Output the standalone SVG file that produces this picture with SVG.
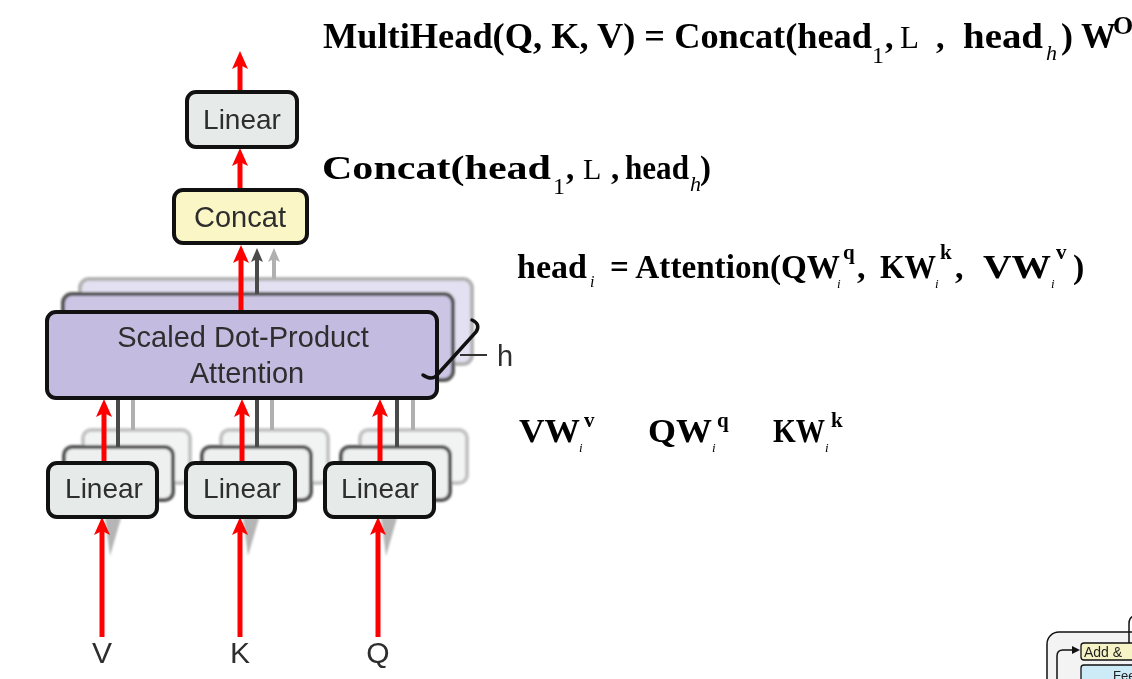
<svg xmlns="http://www.w3.org/2000/svg" width="1132" height="679" viewBox="0 0 1132 679">
<defs>
  <style>
    .box { stroke: #111; stroke-width: 4; }
    .lin { fill: #e6ebe9; }
    .cat { fill: #fbf6c6; }
    .att { fill: #c4bce0; }
    .lbl { font-family: "Liberation Sans", Arial, sans-serif; fill: #2e2e2e; text-anchor: middle; }
    .red { stroke: #ff0000; stroke-width: 5; fill: none; marker-end: url(#redHead); }
    .dk { stroke: #4a4a4a; stroke-width: 4; fill: none; }
    .lt { stroke: #b0b0b0; stroke-width: 4; fill: none; }
    .f { font-family: "Liberation Serif", "Times New Roman", serif; fill: #000; }
    .b { font-weight: bold; }
    .r { font-weight: normal; }
    .it { font-style: italic; font-weight: normal; }
    .tr { font-family: "Liberation Sans", Arial, sans-serif; fill: #222; }
  </style>
  <filter id="soft" x="-10%" y="-10%" width="120%" height="120%">
    <feGaussianBlur stdDeviation="1.2"/>
  </filter>
  <marker id="redHead" markerUnits="userSpaceOnUse" viewBox="-1 -9 21 18" markerWidth="21" markerHeight="18" refX="4" refY="0" orient="auto">
    <path d="M0,-8 L18,0 L0,8 L4,0 Z" fill="#ff0000"/>
  </marker>
  <marker id="dkHead" markerUnits="userSpaceOnUse" viewBox="-1 -7 17 14" markerWidth="17" markerHeight="14" refX="3" refY="0" orient="auto">
    <path d="M0,-6 L14,0 L0,6 L3,0 Z" fill="#4a4a4a"/>
  </marker>
  <marker id="ltHead" markerUnits="userSpaceOnUse" viewBox="-1 -7 17 14" markerWidth="17" markerHeight="14" refX="3" refY="0" orient="auto">
    <path d="M0,-6 L14,0 L0,6 L3,0 Z" fill="#b0b0b0"/>
  </marker>
  <marker id="blkHead" markerUnits="userSpaceOnUse" viewBox="-1 -5 9 10" markerWidth="9" markerHeight="10" refX="1" refY="0" orient="auto">
    <path d="M0,-4 L8,0 L0,4 Z" fill="#111"/>
  </marker>
</defs>

<rect width="1132" height="679" fill="#ffffff"/>

<!-- back copies (shadows of the h heads) -->
<g id="back-copies" filter="url(#soft)">
  <rect x="80" y="279" width="392" height="85" rx="9" fill="#e3e0f1" stroke="#b4b4b4" stroke-width="4"/>
  <rect x="63" y="294" width="390" height="86" rx="9" fill="#ccc6e4" stroke="#555" stroke-width="4"/>
  <rect x="83" y="430" width="107" height="53" rx="8" fill="#f2f4f3" stroke="#c4c4c4" stroke-width="4"/>
  <rect x="221" y="430" width="107" height="53" rx="8" fill="#f2f4f3" stroke="#c4c4c4" stroke-width="4"/>
  <rect x="360" y="430" width="107" height="53" rx="8" fill="#f2f4f3" stroke="#c4c4c4" stroke-width="4"/>
  <rect x="64" y="447" width="109" height="53" rx="8" fill="#edf0ef" stroke="#555" stroke-width="4"/>
  <rect x="202" y="447" width="109" height="53" rx="8" fill="#edf0ef" stroke="#555" stroke-width="4"/>
  <rect x="341" y="447" width="109" height="53" rx="8" fill="#edf0ef" stroke="#555" stroke-width="4"/>
  <path d="M105,518 L121,518 L110,556 Z" fill="#777" opacity="0.55"/>
  <path d="M243,518 L259,518 L248,556 Z" fill="#777" opacity="0.55"/>
  <path d="M381,518 L397,518 L386,556 Z" fill="#777" opacity="0.55"/>
</g>

<!-- connectors -->
<g id="connectors">
  <line class="lt" x1="133" y1="430" x2="133" y2="362"/>
  <line class="lt" x1="272" y1="430" x2="272" y2="362"/>
  <line class="lt" x1="413" y1="430" x2="413" y2="362"/>
  <line class="dk" x1="118" y1="447" x2="118" y2="380"/>
  <line class="dk" x1="257" y1="447" x2="257" y2="380"/>
  <line class="dk" x1="397" y1="447" x2="397" y2="380"/>
  <line class="lt" x1="274" y1="279" x2="274" y2="259" marker-end="url(#ltHead)"/>
  <line class="dk" x1="257" y1="294" x2="257" y2="259" marker-end="url(#dkHead)"/>

  <line class="red" x1="241" y1="312" x2="241" y2="259"/>
  <line class="red" x1="240" y1="190" x2="240" y2="162"/>
  <line class="red" x1="240" y1="92" x2="240" y2="65"/>
  <line class="red" x1="104" y1="463" x2="104" y2="413"/>
  <line class="red" x1="242" y1="463" x2="242" y2="413"/>
  <line class="red" x1="380" y1="463" x2="380" y2="413"/>
  <line class="red" x1="102" y1="637" x2="102" y2="531"/>
  <line class="red" x1="240" y1="637" x2="240" y2="531"/>
  <line class="red" x1="378" y1="637" x2="378" y2="531"/>
</g>

<!-- nodes -->
<g id="node-linear-out">
  <rect class="box lin" x="187" y="92" width="110" height="55" rx="9"/>
  <text class="lbl" x="242" y="129" font-size="28">Linear</text>
</g>
<g id="node-concat">
  <rect class="box cat" x="174" y="190" width="133" height="53" rx="9"/>
  <text class="lbl" x="240" y="227" font-size="29">Concat</text>
</g>
<g id="node-attention">
  <rect class="box att" x="47" y="312" width="390" height="86" rx="9"/>
  <text class="lbl" x="243" y="347" font-size="29">Scaled Dot-Product</text>
  <text class="lbl" x="247" y="383" font-size="29">Attention</text>
</g>
<g id="node-h">
  <path d="M472,320 Q481,324 476,332 L437,375 Q432,381 423,375" fill="none" stroke="#111" stroke-width="3.5" stroke-linecap="round"/>
  <line x1="460" y1="355" x2="487" y2="355" stroke="#333" stroke-width="2"/>
  <text class="lbl" x="505" y="366" font-size="29">h</text>
</g>
<g id="node-linear-v">
  <rect class="box lin" x="48" y="463" width="109" height="54" rx="9"/>
  <text class="lbl" x="104" y="498" font-size="28">Linear</text>
</g>
<g id="node-linear-k">
  <rect class="box lin" x="186" y="463" width="109" height="54" rx="9"/>
  <text class="lbl" x="242" y="498" font-size="28">Linear</text>
</g>
<g id="node-linear-q">
  <rect class="box lin" x="325" y="463" width="109" height="54" rx="9"/>
  <text class="lbl" x="380" y="498" font-size="28">Linear</text>
</g>
<g id="node-inputs">
  <text class="lbl" x="102" y="663" font-size="30">V</text>
  <text class="lbl" x="240" y="663" font-size="30">K</text>
  <text class="lbl" x="378" y="663" font-size="30">Q</text>
</g>

<!-- formulas -->
<g id="formula-multihead" class="f">
  <text class="b" x="323" y="48" font-size="36" textLength="549" lengthAdjust="spacingAndGlyphs">MultiHead(Q, K, V) = Concat(head</text>
  <text class="r" x="872" y="63" font-size="24">1</text>
  <text class="b" x="885" y="48" font-size="34">,</text>
  <text class="r" x="900" y="48" font-size="31">L</text>
  <text class="b" x="936" y="48" font-size="34">,</text>
  <text class="b" x="963" y="48" font-size="36" textLength="80" lengthAdjust="spacingAndGlyphs">head</text>
  <text class="it" x="1046" y="60" font-size="22">h</text>
  <text class="b" x="1061" y="48" font-size="36">)</text>
  <text class="b" x="1081" y="48" font-size="35">W</text>
  <text class="b" x="1113" y="34" font-size="26">O</text>
</g>
<g id="formula-concat" class="f">
  <text class="b" x="322" y="179" font-size="33" textLength="229" lengthAdjust="spacingAndGlyphs">Concat(head</text>
  <text class="r" x="553" y="194" font-size="24">1</text>
  <text class="b" x="566" y="179" font-size="33">,</text>
  <text class="r" x="583" y="179" font-size="30">L</text>
  <text class="b" x="611" y="179" font-size="33">,</text>
  <text class="b" x="625" y="179" font-size="33" textLength="64" lengthAdjust="spacingAndGlyphs">head</text>
  <text class="it" x="690" y="191" font-size="22">h</text>
  <text class="b" x="700" y="179" font-size="33">)</text>
</g>
<g id="formula-head" class="f">
  <text class="b" x="517" y="278" font-size="34" textLength="70" lengthAdjust="spacingAndGlyphs">head</text>
  <text class="it" x="590" y="287" font-size="16">i</text>
  <text class="b" x="610" y="278" font-size="34" textLength="230" lengthAdjust="spacingAndGlyphs">= Attention(QW</text>
  <text class="it" x="837" y="288" font-size="13">i</text>
  <text class="b" x="843" y="259" font-size="21">q</text>
  <text class="b" x="857" y="278" font-size="34">,</text>
  <text class="b" x="880" y="278" font-size="34" textLength="56" lengthAdjust="spacingAndGlyphs">KW</text>
  <text class="it" x="935" y="288" font-size="13">i</text>
  <text class="b" x="940" y="259" font-size="21">k</text>
  <text class="b" x="955" y="278" font-size="34">,</text>
  <text class="b" x="983" y="278" font-size="34" textLength="68" lengthAdjust="spacingAndGlyphs">VW</text>
  <text class="it" x="1051" y="288" font-size="13">i</text>
  <text class="b" x="1056" y="259" font-size="21">v</text>
  <text class="b" x="1073" y="278" font-size="34">)</text>
</g>
<g id="formula-projections" class="f">
  <text class="b" x="519" y="442" font-size="34" textLength="61" lengthAdjust="spacingAndGlyphs">VW</text>
  <text class="it" x="579" y="452" font-size="13">i</text>
  <text class="b" x="584" y="427" font-size="21">v</text>
  <text class="b" x="648" y="442" font-size="34" textLength="64" lengthAdjust="spacingAndGlyphs">QW</text>
  <text class="it" x="712" y="452" font-size="13">i</text>
  <text class="b" x="717" y="427" font-size="21">q</text>
  <text class="b" x="773" y="442" font-size="34" textLength="52" lengthAdjust="spacingAndGlyphs">KW</text>
  <text class="it" x="825" y="452" font-size="13">i</text>
  <text class="b" x="831" y="427" font-size="21">k</text>
</g>

<!-- cropped transformer fragment, bottom right -->
<g id="fragment-encoder">
  <rect x="1047" y="632" width="140" height="90" rx="12" fill="#f3f3f3" stroke="#111" stroke-width="1.5"/>
  <path d="M1134,616 Q1129,617 1129,624 L1129,643" fill="none" stroke="#111" stroke-width="1.5"/>
  <path d="M1057,679 L1057,656 Q1057,650 1063,650 L1073,650" fill="none" stroke="#111" stroke-width="1.5" marker-end="url(#blkHead)"/>
</g>
<g id="fragment-add">
  <rect x="1081" y="643" width="70" height="17" rx="3" fill="#f6f3c6" stroke="#111" stroke-width="1.3"/>
  <text class="tr" x="1084" y="657" font-size="14">Add &amp;</text>
</g>
<g id="fragment-feed">
  <rect x="1081" y="665" width="70" height="30" rx="3" fill="#cdeaf7" stroke="#111" stroke-width="1.3"/>
  <text class="tr" x="1113" y="680" font-size="13">Fee</text>
</g>
</svg>
